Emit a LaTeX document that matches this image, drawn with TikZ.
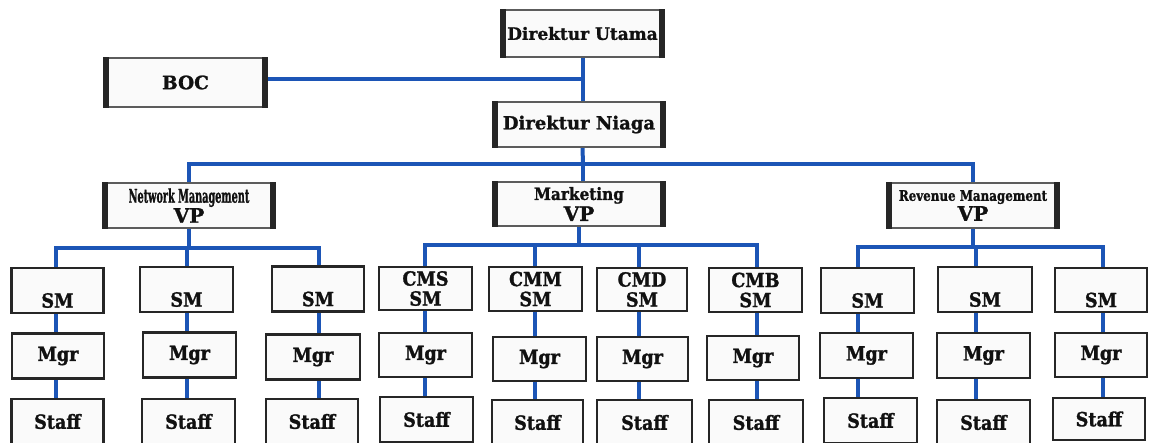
\documentclass[tikz,border=0pt]{standalone}
\usepackage{fontspec}
\setmainfont{DejaVu Serif}[BoldFeatures={FakeBold=1.3}]
\newfontfamily\unitfont{DejaVu Serif}[BoldFeatures={FakeBold=1.4, FakeStretch=0.9}]
\usepackage{graphicx}
\usetikzlibrary{backgrounds}
\definecolor{wireblue}{HTML}{1C55B6}
\definecolor{boxfill}{HTML}{FAFAFA}
\definecolor{boxedge}{HTML}{262626}
\definecolor{ink}{HTML}{111111}

\begin{document}
\begin{tikzpicture}[x=1pt,y=-1pt,
  wire/.style={draw=wireblue, line width=4pt, line cap=square},
  topbox/.style={draw=boxedge!75, line width=1.3pt, fill=boxfill, inner sep=0pt,
    text=ink, align=center, font=\bfseries\fontsize{17}{20}\selectfont,
    append after command={
      ([xshift=3pt]\tikzlastnode.north west) edge[draw=boxedge, line width=6pt] ([xshift=3pt]\tikzlastnode.south west)
      ([xshift=-3pt]\tikzlastnode.north east) edge[draw=boxedge, line width=6pt] ([xshift=-3pt]\tikzlastnode.south east)}},
  vpbox/.style={topbox, minimum width=172pt, minimum height=45pt},
  lowbox/.style={draw=boxedge, line width=2.4pt, fill=boxfill, inner sep=0pt,
    minimum width=92pt, minimum height=45pt, text=ink, align=center,
    font=\unitfont\bfseries\fontsize{19.5}{20}\selectfont},
]
\useasboundingbox (0,0) rectangle (1153,442);
\clip (0,0) rectangle (1153,442);

% bus levels and column positions
\coordinate (bus2) at (583,164);
\coordinate (nbus) at (188,248);
\coordinate (mbus) at (582,245);
\coordinate (rbus) at (977,247);
\coordinate (n1) at (56,0);  \coordinate (n2) at (187,0);  \coordinate (n3) at (319,0);
\coordinate (m1) at (425,0); \coordinate (m2) at (535,0);  \coordinate (m3) at (639,0); \coordinate (m4) at (757,0);
\coordinate (r1) at (858,0); \coordinate (r2) at (976,0);  \coordinate (r3) at (1103,0);

% ---- top management ----
\node[topbox, minimum width=163pt, minimum height=47pt] (du) at (582.5,33.5) {Direktur Utama};
\node[topbox, minimum width=163pt, minimum height=49pt, font=\bfseries\fontsize{18.5}{20}\selectfont] (boc) at (185.5,82.5) {BOC};
\node[topbox, minimum width=172pt, minimum height=45pt, font=\bfseries\fontsize{18}{20}\selectfont] (dn) at (579,124.5) {Direktur Niaga};

% ---- vice presidents ----
\node[vpbox] (nvp) at (189,205.5)
  {{\fontsize{19}{19}\selectfont\scalebox{0.51}[1]{Network Management}}\\[0pt]{\fontsize{20}{20}\selectfont VP}};
\node[vpbox, minimum height=44pt] (mvp) at (579,204)
  {{\fontsize{17}{17}\selectfont\scalebox{0.9}[1]{Marketing}}\\[1pt]{\fontsize{20}{20}\selectfont VP}};
\node[vpbox] (rvp) at (973,205.5)
  {{\fontsize{14.5}{14.5}\selectfont\scalebox{0.82}[1]{Revenue Management}}\\[0pt]{\fontsize{20}{20}\selectfont VP}};

% ---- network management units ----
\node[lowbox] (nsm1) at (57.5,290.5) {\phantom{CMS}\\SM};
\node[lowbox, minimum width=93pt] (nsm2) at (186.5,289.5) {\phantom{CMS}\\SM};
\node[lowbox] (nsm3) at (318,289) {\phantom{CMS}\\SM};
\node[lowbox] (nmg1) at (58,356) {Mgr};
\node[lowbox, minimum width=93pt] (nmg2) at (189.5,355) {Mgr};
\node[lowbox, minimum width=94pt] (nmg3) at (313,357) {Mgr};
\node[lowbox] (nst1) at (57.5,421.5) {Staff};
\node[lowbox, minimum width=93pt] (nst2) at (188.5,421.5) {Staff};
\node[lowbox] (nst3) at (312,421.5) {Staff};

% ---- marketing units ----
\node[lowbox, minimum width=93pt, minimum height=43pt] (cms) at (425.5,288.5) {CMS\\SM};
\node[lowbox, minimum width=93pt, minimum height=44pt] (cmm) at (535.5,289) {CMM\\SM};
\node[lowbox, minimum width=90pt, minimum height=43pt] (cmd) at (642,289.5) {CMD\\SM};
\node[lowbox, minimum width=93pt, minimum height=44pt] (cmb) at (755.5,290) {CMB\\SM};
\node[lowbox, minimum width=93pt, minimum height=44pt] (mmg1) at (425.5,355) {Mgr};
\node[lowbox, minimum width=93pt, minimum height=44pt] (mmg2) at (539.5,359) {Mgr};
\node[lowbox, minimum width=91pt, minimum height=44pt] (mmg3) at (642.5,359) {Mgr};
\node[lowbox, minimum height=44pt] (mmg4) at (753,358) {Mgr};
\node[lowbox, minimum width=93pt] (mst1) at (426.5,419.5) {Staff};
\node[lowbox, minimum width=91pt] (mst2) at (537.5,422.5) {Staff};
\node[lowbox, minimum width=95pt] (mst3) at (644.5,422.5) {Staff};
\node[lowbox, minimum width=94pt] (mst4) at (756,422.5) {Staff};

% ---- revenue management units ----
\node[lowbox, minimum width=93pt] (rsm1) at (867.5,290.5) {\phantom{CMS}\\SM};
\node[lowbox, minimum width=94pt] (rsm2) at (985,289.5) {\phantom{CMS}\\SM};
\node[lowbox, minimum height=44pt] (rsm3) at (1101,290) {\phantom{CMS}\\SM};
\node[lowbox, minimum width=93pt] (rmg1) at (866.5,355.5) {Mgr};
\node[lowbox, minimum width=93pt] (rmg2) at (983.5,355.5) {Mgr};
\node[lowbox, minimum height=44pt] (rmg3) at (1101,355) {Mgr};
\node[lowbox, minimum width=93pt] (rst1) at (870.5,420.5) {Staff};
\node[lowbox, minimum width=93pt] (rst2) at (983.5,422.5) {Staff};
\node[lowbox, minimum height=42pt] (rst3) at (1099,419) {Staff};

% ---- connectors, behind the boxes ----
\begin{scope}[on background layer]
  \fill[white] (0,0) rectangle (1153,442);
  % top spine and board link
  \draw[wire] (du.south) -- (du.south |- dn.north);
  \draw[wire] ([yshift=3.5pt]boc.east) -- ([yshift=3.5pt]boc.east -| du.south);
  \draw[wire] (du.south |- dn.south) -- (bus2);
  \draw[wire] (nvp.north) |- (bus2) -| (rvp.north);
  \draw[wire] (bus2) -- (bus2 |- mvp.north);
  % network management
  \draw[wire] (nvp.south) -- (nvp.south |- nbus);
  \draw[wire] (n1 |- nst1.north) -- (n1 |- nbus) -- (n3 |- nbus) -- (n3 |- nst3.north);
  \draw[wire] (n2 |- nbus) -- (n2 |- nst2.north);
  % marketing
  \draw[wire] (mvp.south) -- (mvp.south |- mbus);
  \draw[wire] (m1 |- mst1.north) -- (m1 |- mbus) -- (m4 |- mbus) -- (m4 |- mst4.north);
  \draw[wire] (m2 |- mbus) -- (m2 |- mst2.north);
  \draw[wire] (m3 |- mbus) -- (m3 |- mst3.north);
  % revenue management
  \draw[wire] (rvp.south) -- (rvp.south |- rbus);
  \draw[wire] (r1 |- rst1.north) -- (r1 |- rbus) -- (r3 |- rbus) -- (r3 |- rst3.north);
  \draw[wire] (r2 |- rbus) -- (r2 |- rst2.north);
\end{scope}
\end{tikzpicture}
\end{document}
